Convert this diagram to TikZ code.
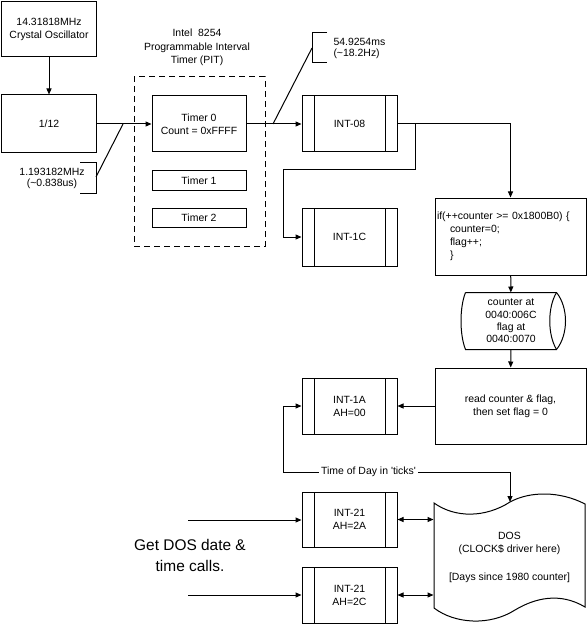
\documentclass[tikz,border=0pt]{standalone}
\usepackage{fontspec}
\setmainfont{Liberation Sans}
\usetikzlibrary{arrows.meta}
\tikzset{
    blk/.style={draw,rectangle,minimum width=94bp,minimum height=56bp},
    intbox/.style={blk,minimum width=95bp,
        path picture={\draw ([xshift=12bp]path picture bounding box.north west) -- ([xshift=12bp]path picture bounding box.south west)
            ([xshift=-12bp]path picture bounding box.north east) -- ([xshift=-12bp]path picture bounding box.south east);}},
    tight/.style={font=\fontsize{10.5}{11.5}\selectfont}
}
\begin{document}
\begin{tikzpicture}[x=1bp,y=-1bp,line width=1bp,>={Triangle[length=6bp,width=5bp]},
        every node/.style={font=\fontsize{10.5}{13}\selectfont,align=center,inner sep=1bp}]
        \useasboundingbox (0,0) rectangle (588,624);
        \begin{scope}[every node/.style={blk,font=\fontsize{10.5}{13}\selectfont,align=center,inner sep=1bp}]
            \node[minimum height=55bp] (xtal) at (49,29.5) {14.31818MHz\\Crystal Oscillator};
            \node[minimum height=58bp] (div) at (49,124) {1/12};
            \node (t0) at (199,124) {Timer 0\\Count = 0xFFFF};
            \node[minimum height=19bp] (t1) at (199,180.5) {Timer 1};
            \node[minimum height=19bp] (t2) at (199,217.5) {Timer 2};
            \node[intbox] (i08) at (349.5,124) {INT-08};
            \node[intbox,minimum height=58bp] (i1c) at (349.5,237) {INT-1C};
            \node[minimum width=151bp,minimum height=77bp,text width=147bp,align=left] (cnt) at (510.5,236.5)
                {if(++counter >= 0x1800B0) \{\\\hspace*{13bp}counter=0;\\\hspace*{13bp}flag++;\\\hspace*{13bp}\}};
            \node[minimum width=151bp,minimum height=76bp] (rd) at (510.5,406) {read counter \& flag,\\then set flag = 0};
            \node[intbox] (i1a) at (349.5,406) {INT-1A\\AH=00};
            \node[intbox,minimum height=55bp] (i21a) at (349.5,519.5) {INT-21\\AH=2A};
            \node[intbox] (i21c) at (349.5,595) {INT-21\\AH=2C};
        \end{scope}
        \node[draw,dashed,dash pattern=on 6bp off 4bp,minimum width=131bp,minimum height=169bp] (pit) at (199.5,161.5) {};
        \node[font=\fontsize{10.5}{13.5}\selectfont] (pitlbl) at (197,47.5) {Intel\ \ 8254\\Programmable Interval\\Timer (PIT)};
        \node[minimum width=90bp,minimum height=56bp,font=\fontsize{10.5}{12.4}\selectfont] (mem) at (511,321)
            {counter at\\0040:006C\\flag at\\0040:0070};
        \node[minimum width=151bp,minimum height=100bp] (dos) at (509.5,557)
            {DOS\\(CLOCK\$ driver here)\\[15bp]{[}Days since 1980 counter{]}};
        \node[font=\fontsize{15.5}{21}\selectfont] (calls) at (190,555.5) {Get DOS date \&\\time calls.};
        \node[tight] (f1) at (52,178.5) {1.193182MHz\\(\textasciitilde0.838us)};
        \node[tight,anchor=west,align=left] (f2) at (332,48.5) {54.9254ms\\(\textasciitilde18.2Hz)};
        % shapes drawn by hand
        \draw (mem.north west) -- (mem.north east) .. controls +(12,15) and +(12,-15) .. (mem.south east)
            -- (mem.south west) .. controls +(-6,-15) and +(-6,15) .. (mem.north west);
        \draw (mem.north east) .. controls +(-9,15) and +(-9,-15) .. (mem.south east);
        \coordinate (dostop) at (510,502);
        \draw (434,503) .. controls (455,518) and (485,518) .. (dostop) .. controls (530,491) and (560,491) .. (585,504)
            -- (585,607) .. controls (560,592) and (535,598) .. (515,610) .. controls (490,626) and (455,624) .. (434,608) -- cycle;
        % brackets
        \draw (80,163) -- (96,163) -- (96,193) -- (80,193);
        \draw (96,177) -- (123,124);
        \draw (327,33) -- (312,33) -- (312,63) -- (327,63);
        \draw (312,48) -- (273,124);
        % connectors
        \coordinate (br) at (415,124);
        \coordinate (brk) at (283,170);
        \coordinate (tk) at (283,472);
        \coordinate (in1) at (188,520);
        \coordinate (in2) at (188,595);
        \path[->]
            (xtal) edge (div)
            (div) edge (t0)
            (t0) edge (i08)
            (cnt) edge (mem)
            (mem) edge (rd)
            (rd) edge (i1a)
            (in1) edge (in1 -| i21a.west)
            (in2) edge (in2 -| i21c.west);
        \draw[->] (i08) -| (cnt);
        \draw[->] (br) |- (brk) |- (i1c);
        \draw[<->] (i1a) -| (tk) -| (dostop);
        \node[fill=white,inner xsep=2bp] (tklbl) at (368.5,472) {Time of Day in \textquotesingle ticks\textquotesingle};
        \draw[<->] (i21a.east) -- (i21a.east -| dos.west);
        \draw[<->] (i21c.east) -- (i21c.east -| dos.west);
    \end{tikzpicture}
\end{document}
